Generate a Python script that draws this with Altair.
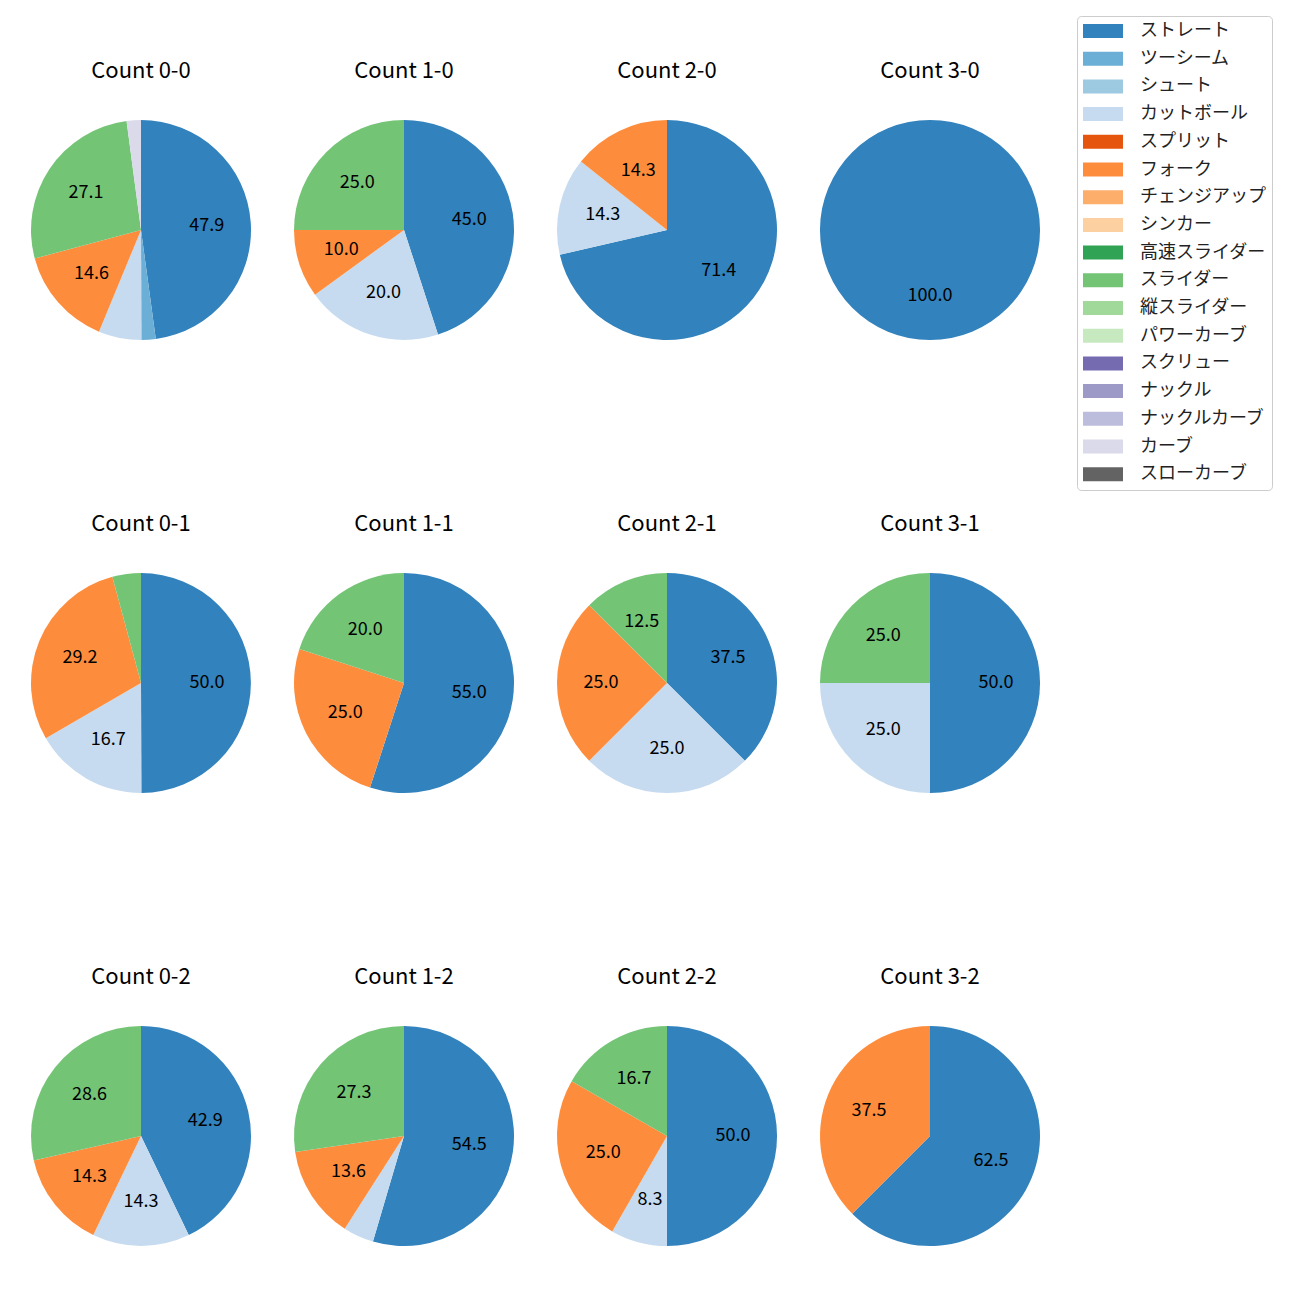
import altair as alt
import pandas as pd

FONT = "Noto Sans CJK JP"

pitch_types = ["ストレート", "ツーシーム", "シュート", "カットボール", "スプリット", "フォーク",
               "チェンジアップ", "シンカー", "高速スライダー", "スライダー", "縦スライダー",
               "パワーカーブ", "スクリュー", "ナックル", "ナックルカーブ", "カーブ", "スローカーブ"]
pitch_colors = ["#3182bd", "#6baed6", "#9ecae1", "#c6dbef", "#e6550d", "#fd8d3c",
                "#fdae6b", "#fdd0a2", "#31a354", "#74c476", "#a1d99b", "#c7e9c0",
                "#756bb1", "#9e9ac8", "#bcbddc", "#dadaeb", "#636363"]

count_labels = ["0-0", "1-0", "2-0", "3-0",
                "0-1", "1-1", "2-1", "3-1",
                "0-2", "1-2", "2-2", "3-2"]

pie_pitches = [
    ["ストレート", "ツーシーム", "カットボール", "フォーク", "スライダー", "カーブ"],
    ["ストレート", "カットボール", "フォーク", "スライダー"],
    ["ストレート", "カットボール", "フォーク"],
    ["ストレート"],
    ["ストレート", "カットボール", "フォーク", "スライダー"],
    ["ストレート", "フォーク", "スライダー"],
    ["ストレート", "カットボール", "フォーク", "スライダー"],
    ["ストレート", "カットボール", "スライダー"],
    ["ストレート", "カットボール", "フォーク", "スライダー"],
    ["ストレート", "カットボール", "フォーク", "スライダー"],
    ["ストレート", "カットボール", "フォーク", "スライダー"],
    ["ストレート", "フォーク"],
]
pie_values = [
    [47.9, 2.1, 6.3, 14.6, 27.1, 2.1],
    [45.0, 20.0, 10.0, 25.0],
    [71.4, 14.3, 14.3],
    [100.0],
    [50.0, 16.7, 29.2, 4.2],
    [55.0, 25.0, 20.0],
    [37.5, 25.0, 25.0, 12.5],
    [50.0, 25.0, 25.0],
    [42.9, 14.3, 14.3, 28.6],
    [54.5, 4.5, 13.6, 27.3],
    [50.0, 8.3, 25.0, 16.7],
    [62.5, 37.5],
]

LABEL_MIN = 7.0

rows = []
for c, ps, vs in zip(count_labels, pie_pitches, pie_values):
    for p, v in zip(ps, vs):
        rows.append({"count": c, "pitch": p, "idx": pitch_types.index(p), "value": v,
                     "label": f"{v:.1f}" if v >= LABEL_MIN else ""})
df = pd.DataFrame(rows)

color = alt.Color(
    "pitch:N",
    scale=alt.Scale(domain=pitch_types, range=pitch_colors),
    legend=alt.Legend(
        title=None, orient="none", legendX=1046, legendY=-104,
        symbolType="M-1,-0.778H3.444V0.778H-1Z", symbolSize=324, symbolStrokeWidth=0,
        symbolOpacity=1,
        labelFontSize=18, labelFont=FONT, labelColor="#222", labelOffset=39,
        rowPadding=9.7, padding=6, strokeColor="#cccccc", fillColor="white",
        cornerRadius=4, labelLimit=300,
    ),
)


def pie(c):
    base = alt.Chart(df[df["count"] == c]).encode(
        theta=alt.Theta("value:Q", stack=True),
        order=alt.Order("idx:Q", sort="ascending"),
    )
    arc = base.mark_arc(radius=110, strokeWidth=0).encode(color=color)
    txt = base.mark_text(radius=66, fontSize=18, font=FONT, color="black").encode(text="label:N")
    return alt.layer(arc, txt).properties(
        width=220, height=220,
        title=alt.TitleParams(f"Count {c}", fontSize=22, font=FONT, fontWeight="normal",
                              anchor="middle", offset=37, color="black"),
    )


grid_rows = []
for r in range(3):
    grid_rows.append(alt.hconcat(*[pie(c) for c in count_labels[r * 4:(r + 1) * 4]], spacing=43))

chart = alt.vconcat(*grid_rows, spacing=173).properties(
    padding={"left": 31, "top": 15, "right": 0, "bottom": 0},
    background="white",
).configure_view(stroke=None)

chart.save("out.html", embed_options={"renderer": "svg", "actions": False})
